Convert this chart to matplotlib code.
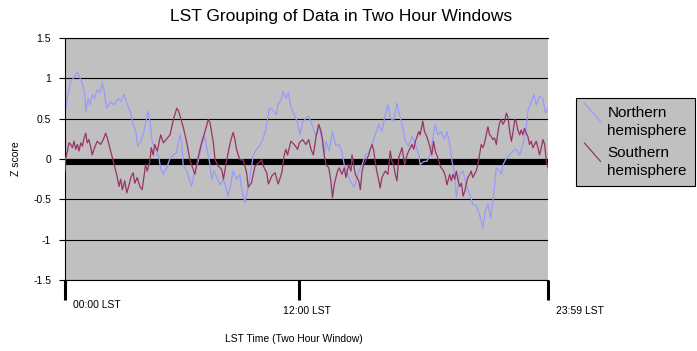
import matplotlib
matplotlib.use("Agg")
import matplotlib.pyplot as plt
from matplotlib.lines import Line2D
from matplotlib.legend_handler import HandlerBase
from matplotlib.transforms import ScaledTranslation

# ---------------- data (minutes of the day, z score) ----------------
title = "LST Grouping of Data in Two Hour Windows"
x_label = "LST Time (Two Hour Window)"
y_label = "Z score"
series_names = ["Northern\nhemisphere", "Southern\nhemisphere"]
x_tick_minutes = [0, 697, 1439]
x_tick_labels = ["00:00 LST", "12:00 LST", "23:59 LST"]
y_ticks = [1.5, 1.0, 0.5, 0.0, -0.5, -1.0, -1.5]
y_tick_labels = ["1.5", "1", "0.5", "0", "-0.5", "-1", "-1.5"]
baseline_value = -0.035

north_x = [2, 9, 17, 32, 37, 45, 52, 59, 62, 69, 74, 81, 88, 96, 104, 111, 116, 124,
           136, 146, 158, 166, 176, 186, 196, 203, 211, 217, 226, 235, 247, 253, 260,
           270, 280, 285, 293, 303, 313, 323, 333, 338, 343, 348, 352, 363, 372, 377,
           382, 387, 397, 407, 417, 422, 432, 437, 444, 452, 462, 472, 482, 486, 492,
           501, 511, 521, 526, 531, 536, 543, 551, 561, 571, 579, 589, 599, 609, 619,
           629, 634, 643, 650, 658, 665, 673, 683, 693, 700, 708, 718, 726, 733, 743,
           748, 758, 768, 772, 778, 787, 797, 807, 817, 825, 832, 842, 852, 862, 875,
           885, 895, 905, 915, 924, 935, 944, 954, 962, 969, 979, 989, 999, 1009, 1014,
           1024, 1034, 1044, 1054, 1058, 1069, 1078, 1088, 1098, 1103, 1111, 1121, 1131,
           1138, 1148, 1153, 1161, 1166, 1176, 1186, 1195, 1206, 1215, 1225, 1235, 1245,
           1252, 1260, 1268, 1275, 1280, 1285, 1295, 1300, 1305, 1315, 1325, 1335, 1344,
           1355, 1364, 1374, 1379, 1389, 1397, 1404, 1414, 1424, 1431, 1439]
north_z = [0.63, 0.80, 0.96, 1.04, 1.08, 1.00, 0.94, 0.80, 0.59, 0.75, 0.67, 0.80, 0.75,
           0.86, 0.82, 0.94, 0.86, 0.63, 0.71, 0.67, 0.75, 0.71, 0.80, 0.67, 0.57, 0.43,
           0.34, 0.16, 0.22, 0.34, 0.59, 0.47, 0.20, 0.14, 0.01, -0.12, -0.19, -0.11,
           0.01, 0.05, 0.08, 0.22, 0.30, 0.18, -0.07, -0.15, -0.27, -0.34, -0.23, -0.15,
           -0.03, 0.18, 0.28, 0.14, -0.07, -0.25, -0.15, -0.23, -0.32, -0.25, -0.38,
           -0.46, -0.36, -0.15, -0.25, -0.19, -0.36, -0.46, -0.54, -0.40, -0.23, 0.05,
           0.12, 0.16, 0.24, 0.38, 0.63, 0.61, 0.55, 0.67, 0.73, 0.84, 0.75, 0.82, 0.65,
           0.55, 0.45, 0.30, 0.45, 0.51, 0.53, 0.45, 0.34, 0.28, 0.40, 0.18, 0.05, 0.22,
           0.10, 0.34, 0.16, 0.18, 0.08, -0.07, -0.19, -0.29, -0.35, -0.15, -0.07, 0.05,
           0.08, 0.18, 0.30, 0.43, 0.34, 0.55, 0.67, 0.51, 0.47, 0.69, 0.51, 0.34, 0.22,
           0.16, 0.28, 0.18, 0.05, -0.07, -0.03, -0.03, 0.05, 0.30, 0.43, 0.30, 0.34,
           0.24, 0.34, 0.14, -0.03, -0.19, -0.48, -0.19, -0.15, -0.32, -0.44, -0.56,
           -0.58, -0.69, -0.85, -0.65, -0.56, -0.73, -0.52, -0.32, -0.11, -0.15, -0.19,
           -0.07, 0.01, 0.05, 0.10, 0.12, 0.05, 0.18, 0.38, 0.59, 0.71, 0.80, 0.67,
           0.78, 0.75, 0.57, 0.63]

south_x = [0, 2, 7, 12, 17, 22, 27, 32, 37, 42, 47, 52, 57, 62, 66, 71, 77, 81, 88, 96,
           106, 114, 121, 126, 131, 136, 144, 151, 156, 161, 166, 171, 178, 184, 191,
           196, 203, 208, 215, 223, 230, 235, 240, 245, 253, 257, 263, 267, 275, 285,
           293, 303, 313, 323, 333, 338, 343, 352, 363, 372, 382, 387, 397, 407, 417,
           427, 432, 442, 447, 457, 467, 472, 482, 492, 501, 506, 511, 521, 531, 541,
           546, 556, 566, 576, 586, 591, 601, 606, 616, 626, 635, 646, 653, 658, 663,
           673, 683, 693, 698, 708, 718, 726, 733, 740, 748, 756, 763, 768, 772, 778,
           786, 792, 797, 802, 812, 817, 825, 832, 837, 845, 852, 855, 860, 865, 875,
           880, 885, 890, 895, 905, 909, 915, 920, 924, 929, 935, 939, 944, 954, 962,
           969, 974, 979, 984, 989, 994, 1004, 1012, 1019, 1024, 1034, 1039, 1044, 1054,
           1058, 1066, 1071, 1078, 1085, 1093, 1098, 1103, 1111, 1118, 1128, 1133, 1138,
           1146, 1151, 1156, 1161, 1166, 1171, 1176, 1181, 1186, 1191, 1195, 1200, 1206,
           1210, 1215, 1220, 1225, 1230, 1235, 1240, 1245, 1250, 1255, 1260, 1265, 1270,
           1275, 1280, 1285, 1290, 1295, 1300, 1305, 1310, 1315, 1320, 1325, 1330, 1335,
           1340, 1344, 1349, 1355, 1359, 1364, 1369, 1374, 1379, 1384, 1389, 1394, 1399,
           1404, 1409, 1414, 1419, 1424, 1429, 1434, 1439]
south_z = [-0.15, 0.01, 0.10, 0.20, 0.18, 0.14, 0.22, 0.12, 0.18, 0.10, 0.20, 0.16, 0.26,
           0.32, 0.20, 0.24, 0.14, 0.05, 0.14, 0.22, 0.18, 0.24, 0.32, 0.26, 0.18, 0.10,
           -0.03, -0.15, -0.23, -0.34, -0.25, -0.38, -0.27, -0.42, -0.32, -0.23, -0.17,
           -0.30, -0.23, -0.34, -0.38, -0.23, -0.07, -0.15, -0.03, 0.14, 0.05, 0.18, 0.10,
           0.30, 0.20, 0.25, 0.30, 0.49, 0.63, 0.60, 0.53, 0.40, 0.20, -0.01, -0.13,
           -0.19, 0.03, 0.20, 0.34, 0.49, 0.45, 0.20, -0.01, -0.09, -0.13, -0.25, -0.01,
           0.20, 0.33, 0.25, 0.12, -0.01, -0.01, -0.17, -0.35, -0.29, -0.09, -0.05, -0.01,
           -0.09, -0.17, -0.31, -0.21, -0.17, -0.31, -0.17, 0.05, 0.12, 0.05, 0.22, 0.18,
           0.12, 0.20, 0.24, 0.18, 0.24, 0.12, 0.05, 0.28, 0.43, 0.34, 0.22, 0.05, -0.07,
           -0.11, -0.27, -0.48, -0.32, -0.15, -0.11, -0.19, -0.11, -0.23, -0.07, -0.15,
           0.05, -0.07, -0.19, -0.27, -0.38, -0.15, -0.07, -0.03, 0.05, 0.12, 0.18, 0.10,
           -0.03, -0.15, -0.27, -0.36, -0.23, -0.15, -0.19, 0.10, -0.03, -0.07, -0.19,
           -0.27, 0.01, 0.14, -0.07, 0.05, 0.10, 0.18, 0.12, 0.22, 0.34, 0.30, 0.47, 0.34,
           0.28, 0.18, 0.05, 0.22, 0.10, 0.01, -0.09, -0.15, -0.21, -0.32, -0.19, -0.27,
           -0.19, -0.25, -0.15, -0.27, -0.34, -0.30, -0.46, -0.40, -0.32, -0.23, -0.19,
           -0.15, -0.23, -0.19, -0.15, -0.07, 0.05, 0.18, 0.14, 0.20, 0.30, 0.40, 0.30,
           0.28, 0.24, 0.26, 0.18, 0.34, 0.45, 0.49, 0.43, 0.47, 0.57, 0.51, 0.34, 0.22,
           0.34, 0.49, 0.47, 0.36, 0.30, 0.36, 0.30, 0.38, 0.32, 0.28, 0.18, 0.22, 0.14,
           0.18, 0.22, 0.14, 0.05, 0.14, 0.24, 0.18, -0.03, -0.11]

# ---------------- style ----------------
FONT = ["Liberation Sans", "Arial", "DejaVu Sans"]
plt.rcParams["font.family"] = FONT
NORTH_COLOR = "#9999ff"
SOUTH_COLOR = "#993366"
BG = "#c0c0c0"

W, H = 697, 351
fig = plt.figure(figsize=(W / 100, H / 100), dpi=100)
fig.patch.set_facecolor("white")

L, R, T, B = 65, 548, 38, 280
ax = fig.add_axes([L / W, 1 - B / H, (R - L) / W, (B - T) / H])
ax.set_facecolor(BG)

ax.axhline(baseline_value, color="black", lw=4.4, zorder=1.6)
ax.plot(north_x, north_z, color=NORTH_COLOR, lw=0.9, zorder=2, label=series_names[0])
ax.plot(south_x, south_z, color=SOUTH_COLOR, lw=0.9, zorder=3, label=series_names[1])

ax.set_xlim(0, 1439)
ax.set_ylim(-1.5, 1.5)
ax.set_yticks(y_ticks)
ax.set_yticklabels(y_tick_labels)
ax.grid(axis="y", color="black", lw=0.8, zorder=1)
ax.set_axisbelow(True)

for s in ("left", "bottom", "top"):
    ax.spines[s].set_color("black")
    ax.spines[s].set_linewidth(0.8)
ax.spines["right"].set_visible(False)

ax.tick_params(axis="y", length=4, width=0.8, pad=6, labelsize=7.5, colors="black")
ax.set_xticks(x_tick_minutes)
ax.set_xticklabels(x_tick_labels)
ax.tick_params(axis="x", length=14.5, width=2.2, pad=2, labelsize=7.5, colors="black")

px = 1 / 100.0
offsets = [(8, 3), (-16, -3), (8, -3)]
for lab, (dx, dy) in zip(ax.get_xticklabels(), offsets):
    lab.set_ha("left")
    lab.set_transform(lab.get_transform() + ScaledTranslation(dx * px, dy * px, fig.dpi_scale_trans))

ax.set_xlabel(x_label, fontsize=7.5)
ax.xaxis.set_label_coords((294 - L) / (R - L), -(334 - B) / (B - T))
ax.set_ylabel(y_label, fontsize=7.5)
ax.yaxis.set_label_coords((21 - L) / (R - L), 0.5)

fig.text(341 / W, 1 - 17 / H, title, ha="center", va="center", fontsize=12.5)


class DiagonalHandler(HandlerBase):
    def create_artists(self, legend, orig_handle, xdescent, ydescent, width, height,
                       fontsize, trans):
        yc = height / 2 - ydescent + 0.66 * fontsize
        ln = Line2D([-xdescent, -xdescent + width], [yc + 0.6 * fontsize, yc - 0.6 * fontsize],
                    color=orig_handle.get_color(), lw=0.9)
        ln.set_transform(trans)
        return [ln]


handles = ax.get_lines()[1:]
leg = fig.legend(handles, series_names, loc="upper left",
                 bbox_to_anchor=(576 / W, 1 - 98 / H), borderaxespad=0,
                 fontsize=11, frameon=True, fancybox=False, framealpha=1,
                 facecolor=BG, edgecolor="black", handlelength=1.05,
                 handletextpad=0.45, borderpad=0.55, labelspacing=0.55,
                 handler_map={Line2D: DiagonalHandler()})
leg.get_frame().set_linewidth(0.8)
for t in leg.get_texts():
    t.set_linespacing(1.32)

fig.savefig("out.png", dpi=100)
